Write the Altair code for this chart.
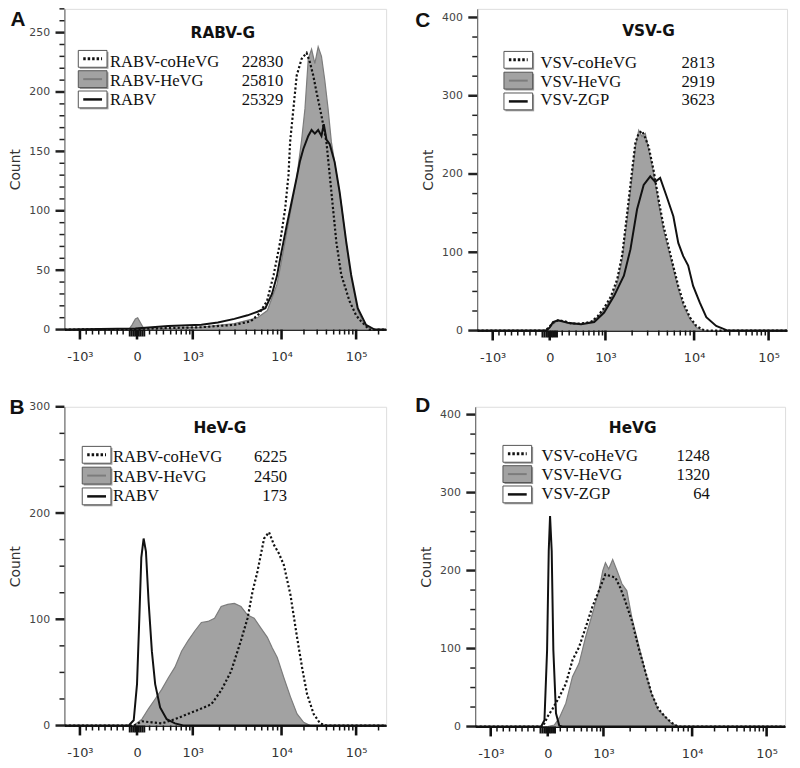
import altair as alt
import pandas as pd

# ---------------- axis ticks (biexponential display channel positions) ----------------
X_MAJOR = [47, 220, 389, 658, 884]
X_MAJOR_LABELS = ["-10³", "0", "10³", "10⁴", "10⁵"]
X_MINOR = [66, 85, 104, 123, 142, 160, 178,
           258, 279, 300, 322, 339, 354, 369, 380,
           470, 517, 551, 577, 598, 616, 632, 646,
           726, 766, 794, 816, 834, 849, 862, 874, 952]
X_ZERO = [198, 204, 210, 215, 225, 230, 236, 242]

# ---------------- Panel A : RABV-G ----------------
A_TITLE = "RABV-G"
A_NAMES = ["RABV-coHeVG", "RABV-HeVG", "RABV"]
A_MFI = [22830, 25810, 25329]
A_grey_ch = [0, 195, 205, 215, 222, 230, 240, 250, 415, 515, 585, 615, 644, 654, 674, 689, 704, 719, 729, 739,
             749, 759, 769, 779, 789, 799, 809, 824, 839, 854, 869, 889, 909, 930, 975]
A_grey_n = [0, 0, 4, 9, 10, 6, 1, 0.5, 2, 5, 10, 16, 38, 52, 82, 105, 128, 160, 186, 228,
            236, 224, 238, 230, 210, 186, 158, 132, 106, 72, 44, 16, 4, 0, 0]
A_black_ch = [0, 215, 315, 415, 465, 515, 555, 585, 609, 629, 644, 654, 664, 674, 689, 704, 714, 724, 739, 749,
              759, 769, 779, 786, 794, 804, 819, 834, 854, 869, 889, 914, 940, 975]
A_black_n = [0, 1, 3, 4, 6, 9, 12, 15, 18, 30, 45, 60, 74, 88, 108, 128, 142, 152, 163, 168,
             165, 168, 163, 173, 160, 156, 141, 116, 74, 46, 18, 4, 0, 0]
A_dot_ch = [0, 215, 415, 515, 565, 589, 614, 634, 654, 669, 679, 684, 694, 704, 719, 734, 744, 754, 764, 779,
            794, 804, 814, 824, 839, 864, 884, 899, 924, 975]
A_dot_n = [0, 0.5, 2, 4, 7, 13, 24, 46, 74, 102, 130, 158, 186, 214, 228, 233, 225, 214, 200, 180,
           158, 130, 102, 74, 46, 24, 12, 7, 0, 0]

# ---------------- Panel B : HeV-G (RABV) ----------------
B_TITLE = "HeV-G"
B_NAMES = ["RABV-coHeVG", "RABV-HeVG", "RABV"]
B_MFI = [6225, 2450, 173]
B_black_ch = [0, 195, 210, 220, 227, 233, 240, 247, 255, 265, 275, 290, 310, 335, 360, 975]
B_black_n = [0, 0, 5, 39, 101, 158, 176, 164, 117, 70, 39, 17, 6, 2, 0, 0]
B_grey_ch = [0, 210, 235, 255, 275, 295, 315, 335, 355, 375, 395, 415, 435, 455, 475, 495, 515, 535, 555, 575,
             595, 615, 630, 645, 665, 685, 705, 725, 745, 975]
B_grey_n = [0, 0, 6, 16, 25, 34, 45, 55, 70, 80, 89, 97, 98, 101, 112, 114, 115, 112, 104, 101,
            92, 83, 73, 64, 45, 27, 11, 3, 0, 0]
B_dot_ch = [0, 210, 235, 265, 295, 335, 375, 415, 445, 475, 505, 535, 555, 570, 585, 605, 620, 635, 650, 665,
            685, 705, 720, 735, 755, 775, 795, 975]
B_dot_n = [0, 0, 4, 3, 2, 6, 11, 16, 20, 33, 51, 80, 101, 126, 145, 176, 182, 170, 162, 151,
           123, 83, 55, 30, 11, 2, 0, 0]

# ---------------- Panel C : VSV-G ----------------
C_TITLE = "VSV-G"
C_NAMES = ["VSV-coHeVG", "VSV-HeVG", "VSV-ZGP"]
C_MFI = [2813, 2919, 3623]
C_grey_ch = [0, 205, 215, 230, 245, 265, 285, 315, 345, 365, 385, 405, 425, 440, 455, 470, 480, 490, 500, 510,
             520, 535, 550, 565, 580, 595, 610, 625, 645, 665, 685, 940]
C_grey_n = [0, 0, 2, 8, 13, 11, 8, 8, 11, 17, 27, 40, 61, 91, 142, 197, 235, 256, 248, 252,
            231, 201, 163, 129, 104, 78, 53, 32, 15, 4, 0, 0]
C_dot_ch = [0, 205, 215, 230, 245, 265, 285, 315, 345, 365, 385, 405, 425, 440, 455, 470, 480, 490, 500, 510,
            520, 535, 550, 565, 580, 595, 610, 625, 645, 665, 685, 700, 940]
C_dot_n = [0, 0, 3, 10, 13, 12, 9, 9, 11, 18, 29, 43, 66, 97, 150, 205, 240, 252, 255, 246,
           235, 205, 168, 134, 108, 82, 57, 36, 17, 6, 1, 0, 0]
C_black_ch = [0, 210, 220, 230, 245, 275, 315, 355, 385, 415, 445, 465, 485, 505, 525, 540, 555, 575, 595, 610,
              625, 640, 655, 675, 695, 725, 760, 940]
C_black_n = [0, 0, 4, 11, 13, 10, 8, 11, 23, 44, 70, 104, 155, 186, 197, 190, 195, 171, 146, 112,
             95, 83, 57, 36, 17, 6, 0, 0]

# ---------------- Panel D : HeVG (VSV) ----------------
D_TITLE = "HeVG"
D_NAMES = ["VSV-coHeVG", "VSV-HeVG", "VSV-ZGP"]
D_MFI = [1248, 1320, 64]
D_black_ch = [0, 200, 210, 218, 223, 227, 232, 237, 245, 255, 265, 940]
D_black_n = [0, 0, 8, 98, 225, 270, 225, 98, 17, 1, 0, 0]
D_grey_ch = [0, 220, 240, 255, 275, 295, 315, 335, 355, 375, 387, 395, 405, 417, 430, 445, 460, 475, 495, 515,
             535, 555, 575, 595, 615, 940]
D_grey_n = [0, 0, 2, 11, 30, 64, 81, 115, 144, 174, 200, 210, 202, 214, 200, 183, 174, 140, 106, 72,
            42, 21, 13, 4, 0, 0]
D_dot_ch = [0, 205, 220, 235, 255, 275, 295, 315, 335, 355, 375, 395, 410, 425, 440, 455, 475, 495, 515, 535,
            555, 575, 595, 615, 940]
D_dot_n = [0, 0, 13, 23, 38, 55, 85, 102, 127, 153, 174, 195, 193, 191, 178, 161, 136, 102, 72, 42,
           23, 13, 5, 0, 0]

# ---------------- styles ----------------
GREY_FILL = "#a2a2a2"
GREY_LINE = "#7c7c7c"
SANS = "DejaVu Sans"
SERIF = "Liberation Serif"
LETTER_FONT = "Liberation Sans"

PANELS = {
    "A": dict(title=A_TITLE, names=A_NAMES, mfi=A_MFI,
              grey=(A_grey_ch, A_grey_n), dot=(A_dot_ch, A_dot_n), black=(A_black_ch, A_black_n),
              w=325, h=324, xmax=975, ymax=270, ymajor=50, ystep=10,
              title_x=160, title_y=29.5, letter_x=-47, letter_y=0,
              box_x=14, box_y0=42, box_gap=20.5, text_x=46, text_y0=59, text_gap=19.3, num_x=221),
    "B": dict(title=B_TITLE, names=B_NAMES, mfi=B_MFI,
              grey=(B_grey_ch, B_grey_n), dot=(B_dot_ch, B_dot_n), black=(B_black_ch, B_black_n),
              w=325, h=322, xmax=975, ymax=300, ymajor=100, ystep=25,
              title_x=157, title_y=26.5, letter_x=-48, letter_y=-9.5,
              box_x=18, box_y0=40, box_gap=21, text_x=49, text_y0=56, text_gap=19.5, num_x=225),
    "C": dict(title=C_TITLE, names=C_NAMES, mfi=C_MFI,
              grey=(C_grey_ch, C_grey_n), dot=(C_dot_ch, C_dot_n), black=(C_black_ch, C_black_n),
              w=313, h=325, xmax=940, ymax=411, ymajor=100, ystep=25,
              title_x=173, title_y=27, letter_x=-55, letter_y=1.5,
              box_x=27, box_y0=43, box_gap=21, text_x=64, text_y0=60, text_gap=18.5, num_x=240),
    "D": dict(title=D_TITLE, names=D_NAMES, mfi=D_MFI,
              grey=(D_grey_ch, D_grey_n), dot=(D_dot_ch, D_dot_n), black=(D_black_ch, D_black_n),
              w=313, h=323, xmax=940, ymax=410, ymajor=100, ystep=25,
              title_x=159, title_y=26.5, letter_x=-53, letter_y=-11.5,
              box_x=28, box_y0=39, box_gap=20.5, text_x=67, text_y0=55, text_gap=19, num_x=237),
}


def x_axis(xmax):
    vals = [v for v in X_MAJOR if v <= xmax]
    expr = "''"
    for v, lab in reversed(list(zip(X_MAJOR, X_MAJOR_LABELS))):
        expr = f"datum.value == {v} ? '{lab}' : ({expr})"
    return alt.Axis(
        values=vals, labelExpr=expr, title=None, grid=False, ticks=False, tickSize=0,
        labelOverlap=False, labelFlush=False,
        labelFont=SANS, labelFontSize=13, labelColor="#333", labelPadding=21,
        domainColor="#111", domainWidth=2,
    )


def y_axis(ymax, major):
    vals = list(range(0, int(ymax) + 1, major))
    return alt.Axis(
        values=vals, title="Count", grid=False, ticks=False, tickSize=0,
        labelOverlap=False, labelFlush=False,
        labelFont=SANS, labelFontSize=11, labelColor="#444", labelPadding=15,
        titleFont=SANS, titleFontSize=14, titleFontWeight="normal", titleColor="#333", titlePadding=6,
        domainColor="#555", domainWidth=1,
    )


def make_panel(key):
    p = PANELS[key]
    xs = alt.Scale(domain=[0, p["xmax"]], nice=False, zero=False)
    ys = alt.Scale(domain=[0, p["ymax"]], nice=False)
    xa = x_axis(p["xmax"])
    ya = y_axis(p["ymax"], p["ymajor"])

    def enc():
        return dict(x=alt.X("ch:Q", scale=xs, axis=xa),
                    y=alt.Y("n:Q", scale=ys, axis=ya))

    grey = pd.DataFrame({"ch": p["grey"][0], "n": p["grey"][1]})
    dot = pd.DataFrame({"ch": p["dot"][0], "n": p["dot"][1]})
    black = pd.DataFrame({"ch": p["black"][0], "n": p["black"][1]})

    layers = [
        alt.Chart(grey).mark_area(fill=GREY_FILL, stroke=GREY_LINE, strokeWidth=1.2, opacity=1).encode(**enc()),
        alt.Chart(dot).mark_line(color="#111", strokeDash=[2.2, 2.2], strokeWidth=2.2).encode(**enc()),
        alt.Chart(black).mark_line(color="#111", strokeWidth=2).encode(**enc()),
    ]

    # tick marks (outside the plot, positioned through the scales)
    h = p["h"]
    ymaj = [v for v in range(0, int(p["ymax"]) + 1, p["ymajor"])]
    ymin = [v for v in range(0, int(p["ymax"]) + 1, p["ystep"]) if v % p["ymajor"] != 0]
    for vals, size, width in [(ymaj, 9, 2.5), (ymin, 5, 1.5)]:
        layers.append(alt.Chart(pd.DataFrame({"n": vals})).mark_tick(
            color="#222", orient="horizontal", thickness=width, size=size, opacity=1).encode(
            y=alt.Y("n:Q", scale=ys, axis=ya), x=alt.value(-size / 2)))
    for vals, size, width in [(X_MAJOR, 10, 2.6), (X_MINOR, 5, 1.5), (X_ZERO, 7, 2)]:
        vv = [v for v in vals if v <= p["xmax"]]
        layers.append(alt.Chart(pd.DataFrame({"ch": vv})).mark_tick(
            color="#111", orient="vertical", thickness=width, size=size, opacity=1).encode(
            x=alt.X("ch:Q", scale=xs, axis=xa), y=alt.value(h + size / 2)))

    dummy = pd.DataFrame({"k": [0]})
    # title inside the plot
    layers.append(alt.Chart(dummy).mark_text(font=SANS, fontWeight="bold", fontSize=15.5, color="#111",
                                             align="center", baseline="alphabetic").encode(
        x=alt.value(p["title_x"]), y=alt.value(p["title_y"]), text=alt.value(p["title"])))
    # panel letter
    layers.append(alt.Chart(dummy).mark_text(font=LETTER_FONT, fontWeight="bold", fontSize=21, color="#111",
                                             align="center", baseline="top").encode(
        x=alt.value(p["letter_x"]), y=alt.value(p["letter_y"]), text=alt.value(key)))

    # legend
    bw, bh = 29, 17
    for i in range(3):
        x0 = p["box_x"]
        top = p["box_y0"] + i * p["box_gap"]
        layers.append(alt.Chart(dummy).mark_rect(fill="#9a9a9a").encode(
            x=alt.value(x0 + 1.5), x2=alt.value(x0 + bw + 1.5), y=alt.value(top + 1.5), y2=alt.value(top + bh + 1.5)))
        layers.append(alt.Chart(dummy).mark_rect(fill=GREY_FILL if i == 1 else "white", stroke="#555",
                                                 strokeWidth=1).encode(
            x=alt.value(x0), x2=alt.value(x0 + bw), y=alt.value(top), y2=alt.value(top + bh)))
        cy = top + bh / 2
        if i == 0:
            rule = alt.Chart(dummy).mark_rule(color="#111", strokeWidth=3, strokeDash=[2.5, 2])
        elif i == 1:
            rule = alt.Chart(dummy).mark_rule(color=GREY_LINE, strokeWidth=2)
        else:
            rule = alt.Chart(dummy).mark_rule(color="#111", strokeWidth=2.5)
        layers.append(rule.encode(x=alt.value(x0 + 5), x2=alt.value(x0 + bw - 5), y=alt.value(cy)))
        tb = p["text_y0"] + i * p["text_gap"]
        layers.append(alt.Chart(dummy).mark_text(font=SERIF, fontSize=16.8, color="#111", align="left",
                                                 baseline="alphabetic").encode(
            x=alt.value(p["text_x"]), y=alt.value(tb), text=alt.value(p["names"][i])))
        layers.append(alt.Chart(dummy).mark_text(font=SERIF, fontSize=16.8, color="#111", align="right",
                                                 baseline="alphabetic").encode(
            x=alt.value(p["num_x"]), y=alt.value(tb), text=alt.value(str(p["mfi"][i]))))

    return alt.layer(*layers).properties(width=p["w"], height=p["h"])


row1 = alt.hconcat(make_panel("A"), make_panel("C"), spacing=23)
row2 = alt.hconcat(make_panel("B"), make_panel("D"), spacing=23)
chart = alt.vconcat(row1, row2, spacing=30).properties(
    padding={"left": 0, "top": -5, "right": 0, "bottom": 0}
).configure_view(stroke="#7f7f7f", strokeWidth=1).configure(background="white")

chart.save("out.html", embed_options={"renderer": "svg", "actions": False})
